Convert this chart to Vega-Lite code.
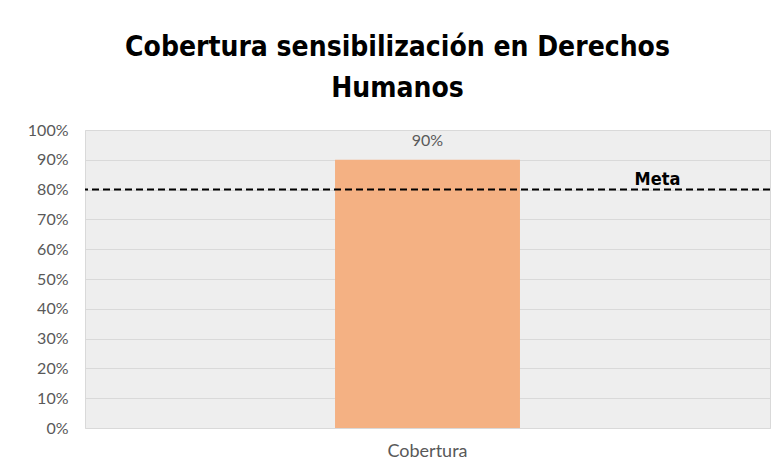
{
  "$schema": "https://vega.github.io/schema/vega-lite/v6.json",
  "width": 685,
  "height": 298,
  "autosize": {"type": "none"},
  "padding": {"left": 85, "top": 130, "right": 10, "bottom": 46},
  "background": "white",
  "title": {
    "text": ["Cobertura sensibilización en Derechos", "Humanos"],
    "font": "DejaVu Sans Condensed, Liberation Sans Narrow, sans-serif",
    "fontSize": 28,
    "fontWeight": "bold",
    "color": "black",
    "anchor": "middle",
    "dx": -30,
    "offset": 19,
    "lineHeight": 41
  },
  "config": {
    "view": {"fill": "#eeeeee", "stroke": "#d9d9d9"},
    "axis": {
      "labelFont": "Lato",
      "labelColor": "#595959",
      "labelFontSize": 16,
      "labelOverlap": false,
      "domain": false,
      "ticks": false,
      "gridColor": "#d9d9d9",
      "title": null
    }
  },
  "data": {"values": [{"categoria": "Cobertura", "valor": 0.9, "meta": 0.8, "etiqueta": "Meta"}]},
  "layer": [
    {
      "mark": {"type": "bar", "color": "#F4B183", "width": {"band": 0.27}},
      "encoding": {
        "x": {
          "field": "categoria",
          "type": "nominal",
          "scale": {"paddingInner": 0, "paddingOuter": 0},
          "axis": {"labelAngle": 0, "labelPadding": 14, "grid": false, "labelFontSize": 18}
        },
        "y": {
          "field": "valor",
          "type": "quantitative",
          "scale": {"domain": [0, 1]},
          "axis": {"format": "%", "values": [0, 0.1, 0.2, 0.3, 0.4, 0.5, 0.6, 0.7, 0.8, 0.9, 1], "labelPadding": 17, "grid": true}
        }
      }
    },
    {
      "mark": {"type": "text", "baseline": "middle", "dy": -19, "font": "Lato", "fontSize": 16, "color": "#595959"},
      "encoding": {
        "x": {"field": "categoria", "type": "nominal"},
        "y": {
          "field": "valor",
          "type": "quantitative",
          "scale": {"domain": [0, 1]},
          "axis": {"format": "%", "values": [0, 0.1, 0.2, 0.3, 0.4, 0.5, 0.6, 0.7, 0.8, 0.9, 1], "labelPadding": 17, "grid": true}
        },
        "text": {"field": "valor", "type": "quantitative", "format": ".0%"}
      }
    },
    {
      "mark": {"type": "rule", "color": "black", "strokeWidth": 2, "strokeDash": [7, 4]},
      "encoding": {
        "y": {
          "field": "meta",
          "type": "quantitative",
          "scale": {"domain": [0, 1]},
          "axis": {"format": "%", "values": [0, 0.1, 0.2, 0.3, 0.4, 0.5, 0.6, 0.7, 0.8, 0.9, 1], "labelPadding": 17, "grid": true}
        }
      }
    },
    {
      "mark": {"type": "text", "baseline": "alphabetic", "align": "center", "dx": 230, "dy": -5, "font": "DejaVu Sans Condensed, Liberation Sans Narrow, sans-serif", "fontWeight": "bold", "fontSize": 18, "color": "black"},
      "encoding": {
        "x": {"field": "categoria", "type": "nominal"},
        "y": {
          "field": "meta",
          "type": "quantitative",
          "scale": {"domain": [0, 1]},
          "axis": {"format": "%", "values": [0, 0.1, 0.2, 0.3, 0.4, 0.5, 0.6, 0.7, 0.8, 0.9, 1], "labelPadding": 17, "grid": true}
        },
        "text": {"field": "etiqueta"}
      }
    }
  ]
}
